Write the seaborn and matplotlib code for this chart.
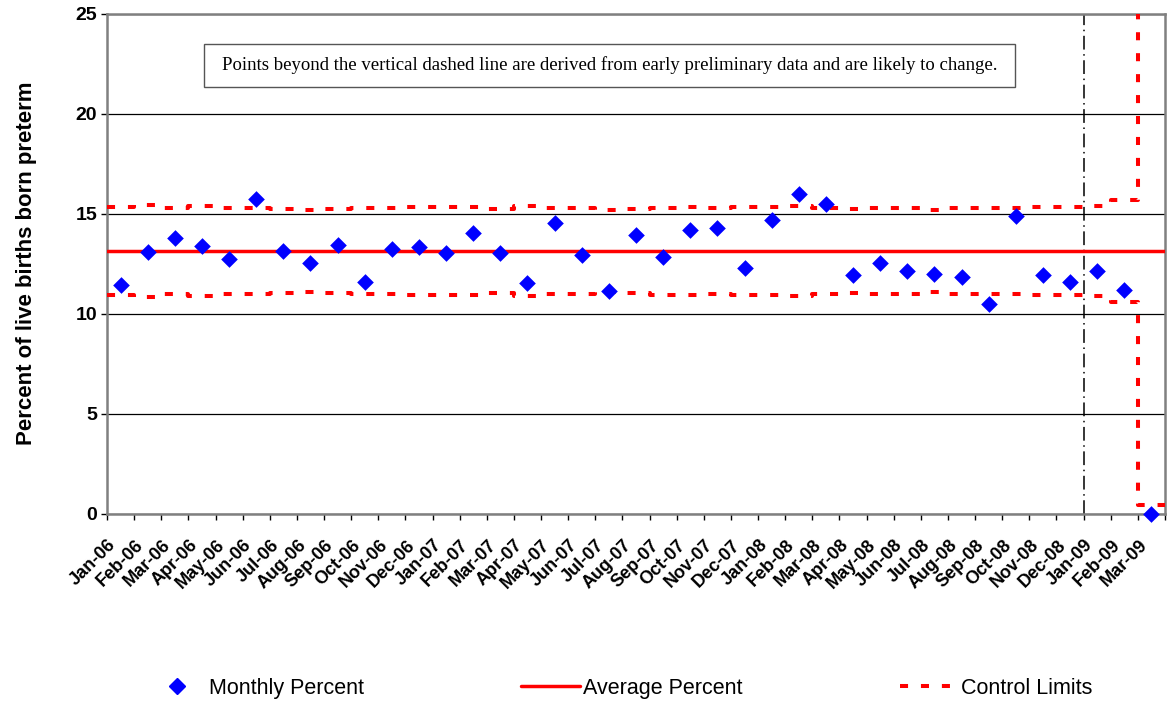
import numpy as np
import pandas as pd
import matplotlib
matplotlib.use("Agg")
import matplotlib.pyplot as plt
import matplotlib.transforms as mtransforms
from matplotlib.lines import Line2D
from matplotlib.patches import Rectangle
import seaborn as sns

months = ["Jan-06", "Feb-06", "Mar-06", "Apr-06", "May-06", "Jun-06", "Jul-06", "Aug-06",
          "Sep-06", "Oct-06", "Nov-06", "Dec-06", "Jan-07", "Feb-07", "Mar-07", "Apr-07",
          "May-07", "Jun-07", "Jul-07", "Aug-07", "Sep-07", "Oct-07", "Nov-07", "Dec-07",
          "Jan-08", "Feb-08", "Mar-08", "Apr-08", "May-08", "Jun-08", "Jul-08", "Aug-08",
          "Sep-08", "Oct-08", "Nov-08", "Dec-08", "Jan-09", "Feb-09", "Mar-09"]

monthly_pct = [11.45, 13.10, 13.80, 13.38, 12.72, 15.72, 13.12, 12.53,
               13.45, 11.58, 13.25, 13.33, 13.05, 14.05, 13.02, 11.55,
               14.53, 12.95, 11.13, 13.92, 12.82, 14.17, 14.28, 12.30,
               14.67, 16.00, 15.50, 11.95, 12.53, 12.13, 12.00, 11.85,
               10.50, 14.87, 11.95, 11.57, 12.13, 11.20, 0.00]

upper_limit = [15.33, 15.45, 15.28, 15.37, 15.28, 15.28, 15.25, 15.17,
               15.22, 15.28, 15.28, 15.32, 15.32, 15.33, 15.22, 15.38,
               15.28, 15.28, 15.17, 15.22, 15.30, 15.33, 15.28, 15.33,
               15.33, 15.38, 15.28, 15.22, 15.28, 15.28, 15.17, 15.28,
               15.28, 15.28, 15.33, 15.33, 15.38, 15.67, 25.80]

lower_limit = [10.92, 10.82, 10.97, 10.88, 10.97, 10.97, 11.02, 11.07,
               11.03, 10.97, 10.97, 10.93, 10.93, 10.93, 11.03, 10.88,
               10.97, 10.97, 11.08, 11.05, 10.93, 10.93, 10.97, 10.93,
               10.93, 10.88, 10.97, 11.03, 10.97, 10.97, 11.08, 10.97,
               10.97, 10.97, 10.93, 10.93, 10.88, 10.58, 0.42]

average_pct = 13.12
preliminary_start = "Jan-09"
note = "Points beyond the vertical dashed line are derived from early preliminary data and are likely to change."

sns.set_style("white")
plt.rcParams["font.family"] = ["Liberation Sans", "DejaVu Sans"]
plt.rcParams["text.color"] = "black"
plt.rcParams["axes.labelcolor"] = "black"
plt.rcParams["xtick.color"] = "black"
plt.rcParams["ytick.color"] = "black"

points = pd.DataFrame({"pos": np.arange(len(months)), "pct": monthly_pct})
# step edges for the control limits (each month spans its whole category)
limits = pd.DataFrame({
    "edge": np.arange(len(months) + 1) - 0.5,
    "ucl": upper_limit + upper_limit[-1:],
    "lcl": lower_limit + lower_limit[-1:],
})

fig = plt.figure(figsize=(11.67, 7.01), dpi=100)
ax = fig.add_axes([107 / 1167, 1 - 513.5 / 701, 1058 / 1167, 500 / 701])

ax.yaxis.grid(True, color="black", linewidth=0.9)
ax.set_axisbelow(True)

red_dash = (0, (2.0, 3.2))
for col in ["ucl", "lcl"]:
    sns.lineplot(data=limits, x="edge", y=col, ax=ax, color="#ff0000", linewidth=2.9,
                 linestyle=red_dash, drawstyle="steps-post", dash_capstyle="butt",
                 zorder=3)

ax.axhline(average_pct, color="#ff0000", linewidth=2.5, zorder=3)
ax.axvline(months.index(preliminary_start) - 0.5, color="black", linewidth=1.1,
           linestyle=(0, (9, 3, 1, 3)), zorder=2)

sns.scatterplot(data=points, x="pos", y="pct", ax=ax, marker="D", s=72,
                color="#0000ff", edgecolor="#0000ff", linewidth=0, zorder=4,
                clip_on=False)

ax.set_xlim(-0.5, len(months) - 0.5)
ax.set_ylim(0, 25)
ax.set_yticks([0, 5, 10, 15, 20, 25])
ax.set_xticks(np.arange(len(months) + 1) - 0.5)
ax.set_xticklabels([])
ax.set_xticks(np.arange(len(months)), minor=True)
ax.set_xticklabels(months, minor=True, rotation=45, ha="right", va="center",
                   rotation_mode="anchor", fontsize=13, fontweight="bold")
ax.tick_params(axis="x", which="major", direction="out", length=4, width=1,
               color="black", bottom=True)
ax.tick_params(axis="x", which="minor", length=0, pad=21, bottom=True)
ax.tick_params(axis="y", direction="out", length=4, width=1, color="black", pad=3,
               left=True, labelsize=14)
for lab in ax.get_yticklabels():
    lab.set_fontweight("bold")
shift = mtransforms.ScaledTranslation(-7 / 100, 0, fig.dpi_scale_trans)
for lab in ax.get_xticklabels(minor=True):
    lab.set_transform(lab.get_transform() + shift)

for side in ["left", "right", "top", "bottom"]:
    ax.spines[side].set_visible(True)
    ax.spines[side].set_color("#808080")
    ax.spines[side].set_linewidth(1.8)

ax.set_xlabel("")
ax.set_ylabel("Percent of live births born preterm", fontsize=16, fontweight="bold",
              labelpad=28)

# note box
ax.add_patch(Rectangle((97 / 1058, 426.5 / 500), 811 / 1058, 43 / 500,
                       transform=ax.transAxes, facecolor="white", edgecolor="#555555",
                       linewidth=1.0, zorder=5))
ax.text(502.5 / 1058, 448 / 500, note, transform=ax.transAxes, ha="center", va="center",
        family=["Liberation Serif", "DejaVu Serif"], fontsize=13.5, zorder=6)

handles = [
    Line2D([], [], linestyle="none", marker="D", markersize=8, color="#0000ff"),
    Line2D([], [], color="#ff0000", linewidth=2.5),
    Line2D([], [], color="#ff0000", linewidth=2.9, linestyle=red_dash,
           dash_capstyle="butt"),
]
fig.legend(handles, ["Monthly Percent", "Average Percent", "Control Limits"],
           loc="lower left", bbox_to_anchor=(139 / 1167, -0.009, 962 / 1167, 0.036),
           mode="expand", ncol=3, frameon=False, fontsize=15.5, handlelength=2.7,
           handletextpad=0.15, borderaxespad=0)

fig.savefig("out.png", dpi=100)
